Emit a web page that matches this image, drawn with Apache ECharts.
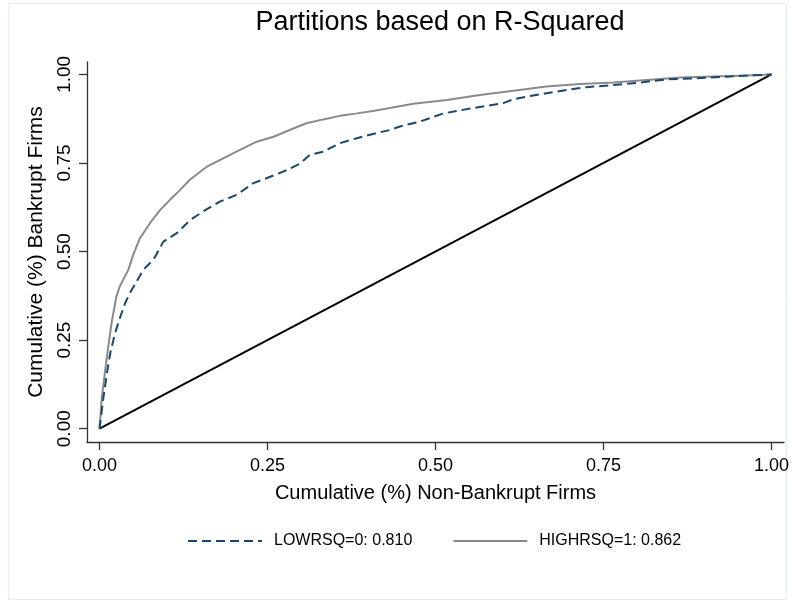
<!DOCTYPE html>
<html>
<head>
<meta charset="utf-8">
<script src="https://cdn.jsdelivr.net/npm/echarts@6/dist/echarts.min.js"></script>
<style>html,body{margin:0;padding:0;background:#fff}#c{width:795px;height:604px}</style>
</head>
<body>
<div id="c"></div>
<script>
const titleText = "Partitions based on R-Squared";
const xTitle = "Cumulative (%) Non-Bankrupt Firms";
const yTitle = "Cumulative (%) Bankrupt Firms";
const tickValues = [0, 0.25, 0.5, 0.75, 1];
const lowName = "LOWRSQ=0: 0.810";
const highName = "HIGHRSQ=1: 0.862";

const lowX = [0, 0.001, 0.006, 0.011, 0.016, 0.023, 0.031, 0.038, 0.045, 0.055, 0.065, 0.075, 0.083, 0.095, 0.115, 0.135, 0.154, 0.179, 0.204, 0.229, 0.254, 0.279, 0.299, 0.313, 0.333, 0.358, 0.383, 0.407, 0.432, 0.447, 0.477, 0.512, 0.556, 0.601, 0.616, 0.641, 0.665, 0.695, 0.725, 0.765, 0.804, 0.844, 0.889, 0.938, 1.0];
const lowY = [0, 0.015, 0.090, 0.156, 0.213, 0.269, 0.316, 0.354, 0.382, 0.415, 0.448, 0.467, 0.486, 0.528, 0.552, 0.589, 0.613, 0.641, 0.660, 0.693, 0.711, 0.730, 0.749, 0.773, 0.782, 0.806, 0.820, 0.832, 0.843, 0.853, 0.867, 0.890, 0.905, 0.919, 0.930, 0.939, 0.947, 0.956, 0.964, 0.970, 0.977, 0.986, 0.989, 0.994, 1.0];

const highX = [0, 0.0007, 0.003, 0.008, 0.013, 0.018, 0.025, 0.030, 0.043, 0.050, 0.060, 0.075, 0.090, 0.105, 0.120, 0.134, 0.160, 0.184, 0.209, 0.234, 0.259, 0.283, 0.308, 0.333, 0.358, 0.383, 0.407, 0.432, 0.467, 0.517, 0.566, 0.616, 0.665, 0.715, 0.765, 0.814, 0.864, 0.913, 0.963, 1.0];
const highY = [0, 0.016, 0.080, 0.158, 0.231, 0.299, 0.372, 0.401, 0.449, 0.490, 0.537, 0.580, 0.617, 0.646, 0.674, 0.702, 0.740, 0.763, 0.787, 0.810, 0.824, 0.843, 0.862, 0.873, 0.883, 0.890, 0.897, 0.905, 0.917, 0.928, 0.942, 0.954, 0.966, 0.973, 0.977, 0.984, 0.991, 0.994, 0.997, 1.0];

const refX = [0, 1];
const refY = [0, 1];

function pairs(xs, ys) { return xs.map((x, i) => [x, ys[i]]); }

const chart = echarts.init(document.getElementById('c'), null, {renderer: 'canvas'});
const font = '"Liberation Sans", Arial, sans-serif';
chart.setOption({
  backgroundColor: '#ffffff',
  animation: false,
  textStyle: {fontFamily: font},
  title: {
    text: titleText, left: 435, top: 4, textAlign: 'center',
    textStyle: {fontFamily: font, fontSize: 27, fontWeight: 'normal', color: '#000'}
  },
  graphic: [{
    type: 'rect', shape: {x: 8.5, y: 3.5, width: 778, height: 596},
    style: {fill: 'none', stroke: '#e6edf2', lineWidth: 1}, silent: true
  }],
  grid: {left: 87, right: 11, top: 62, bottom: 162},
  legend: {
    data: [lowName, highName], left: 182, top: 528,
    itemWidth: 74, itemHeight: 14, itemGap: 40,
    itemStyle: {color: 'rgba(0,0,0,0)', borderWidth: 0},
    textStyle: {fontFamily: font, fontSize: 16, color: '#000', padding: [0, 0, 0, 7]}
  },
  xAxis: {
    type: 'value', min: -0.0186, max: 1.0186,
    name: xTitle, nameLocation: 'middle', nameGap: 41,
    nameTextStyle: {fontFamily: font, fontSize: 20, color: '#000'},
    axisLine: {show: true, onZero: false, lineStyle: {color: '#333', width: 1.3}},
    axisTick: {show: true, length: 8, customValues: tickValues, lineStyle: {color: '#333', width: 1.3}},
    axisLabel: {customValues: tickValues, margin: 15, fontFamily: font, fontSize: 18, color: '#000',
      formatter: v => v.toFixed(2)},
    splitLine: {show: false}
  },
  yAxis: {
    type: 'value', min: -0.0375, max: 1.035,
    name: yTitle, nameLocation: 'middle', nameGap: 40,
    nameTextStyle: {fontFamily: font, fontSize: 21, color: '#000'},
    axisLine: {show: true, onZero: false, lineStyle: {color: '#333', width: 1.3}},
    axisTick: {show: true, length: 8, customValues: tickValues, lineStyle: {color: '#333', width: 1.3}},
    axisLabel: {customValues: tickValues, rotate: 90, margin: 13, fontFamily: font, fontSize: 19, color: '#000',
      formatter: v => v.toFixed(2)},
    splitLine: {show: false}
  },
  series: [
    {name: 'ref', type: 'line', data: pairs(refX, refY), symbol: 'none', silent: true,
     lineStyle: {color: '#000', width: 2}, z: 1},
    {name: lowName, type: 'line', data: pairs(lowX, lowY), symbol: 'none', color: '#1a476f',
     lineStyle: {color: '#1a476f', width: 2, type: [9, 5]}, z: 3},
    {name: highName, type: 'line', data: pairs(highX, highY), symbol: 'none', color: '#8a8a8a',
     lineStyle: {color: '#8a8a8a', width: 2}, z: 2}
  ]
});
</script>
</body>
</html>
